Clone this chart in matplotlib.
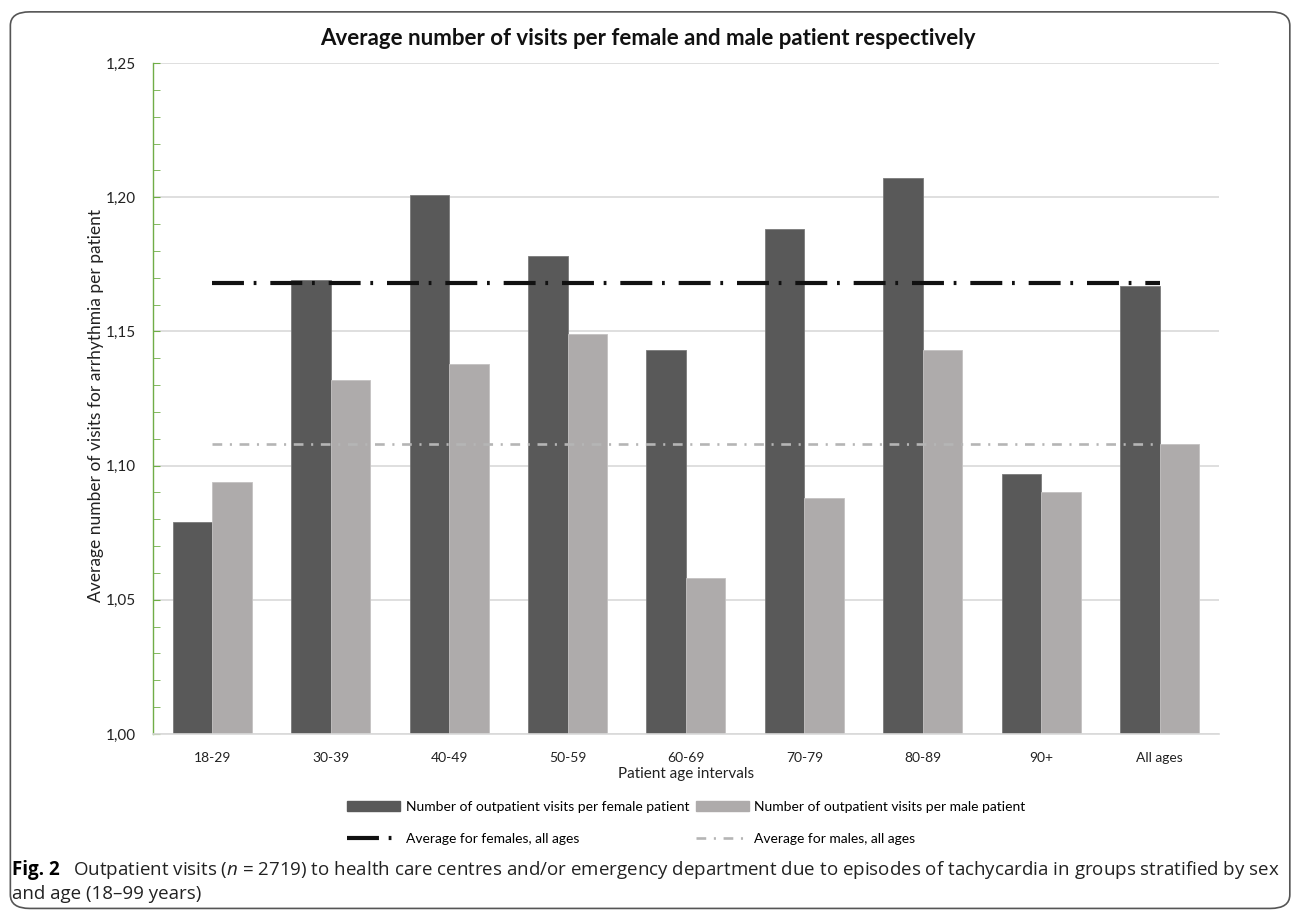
import numpy as np
import matplotlib.pyplot as plt
from matplotlib.patches import FancyBboxPatch, Patch

plt.rcParams['font.family'] = ['Lato', 'DejaVu Sans']
plt.rcParams['mathtext.fontset'] = 'custom'
plt.rcParams['mathtext.it'] = 'Open Sans:italic'
plt.rcParams['mathtext.rm'] = 'Open Sans'
plt.rcParams['lines.scale_dashes'] = False

age_groups = ["18-29", "30-39", "40-49", "50-59", "60-69", "70-79", "80-89", "90+", "All ages"]
female_visits = [1.079, 1.169, 1.201, 1.178, 1.143, 1.188, 1.207, 1.097, 1.167]
male_visits = [1.094, 1.132, 1.138, 1.149, 1.058, 1.088, 1.143, 1.090, 1.108]
female_avg = 1.168
male_avg = 1.108

female_col = "#595959"
male_col = "#aeabab"

fig = plt.figure(figsize=(12.95, 9.13), dpi=100)
ax = fig.add_axes([0.1181, 0.1961, 0.8232, 0.7349])

x = np.arange(len(age_groups))
w = 1 / 3
ax.bar(x - w / 2, female_visits, w, color=female_col, edgecolor="#7a7a7a", linewidth=0.6, zorder=2)
ax.bar(x + w / 2, male_visits, w, color=male_col, edgecolor="#c4c2c2", linewidth=0.6, zorder=2)

lf, = ax.plot([x[0], x[-1]], [female_avg, female_avg], color="#111111", lw=3.0,
              linestyle=(0, (23, 7, 2, 10)), zorder=3)
lm, = ax.plot([x[0], x[-1]], [male_avg, male_avg], color="#b5b5b5", lw=1.9,
              linestyle=(0, (7, 5.5, 1.5, 5.5)), zorder=3)

ax.set_xlim(-0.5, len(age_groups) - 0.5)
ax.set_ylim(1.0, 1.25)
major = np.arange(1.0, 1.2501, 0.05)
ax.set_yticks(major)
ax.set_yticks(np.arange(1.0, 1.2501, 0.01), minor=True)
ax.set_yticklabels([f"{v:.2f}".replace(".", ",") for v in major])
ax.set_xticks(x)
ax.set_xticklabels(age_groups)

ax.yaxis.grid(True, color="#d9d9d9", lw=1.2, zorder=0)
ax.set_axisbelow(True)
for s in ["top", "right"]:
    ax.spines[s].set_visible(False)
ax.spines["bottom"].set_color("#d9d9d9")
ax.spines["bottom"].set_linewidth(1.2)
ax.spines["left"].set_color("#70ad47")
ax.spines["left"].set_linewidth(1.0)

ax.tick_params(axis="x", length=0, pad=13, labelsize=10, labelcolor="#222222")
ax.tick_params(axis="y", which="both", direction="in", length=5, color="#70ad47",
               labelsize=11, labelcolor="#222222", pad=12)

ax.set_ylabel("Average number of visits for arrhythmia per patient", fontsize=12.5, color="#222222")
ax.yaxis.set_label_coords(-0.046, 0.49)
ax.text(0.5, -0.06, "Patient age intervals", transform=ax.transAxes, ha="center", va="center",
        fontsize=11, color="#222222")
fig.text(0.5, 0.958, "Average number of visits per female and male patient respectively",
         ha="center", va="center", fontsize=16, fontweight="bold", color="#111111")

handles = [Patch(color=female_col), lf, Patch(color=male_col), lm]
labels = ["Number of outpatient visits per female patient", "Average for females, all ages",
          "Number of outpatient visits per male patient", "Average for males, all ages"]
fig.legend(handles, labels, ncol=2, loc="center", bbox_to_anchor=(0.53, 0.099), frameon=False,
           fontsize=10, handlelength=3.8, handletextpad=0.4, columnspacing=0.5, labelspacing=1.45)

fig.text(0.009, 0.047, "Fig. 2", fontsize=13.5, fontweight="bold", family="Open Sans", va="center")
fig.text(0.056, 0.047, r"Outpatient visits ($n$ = 2719) to health care centres and/or emergency department due to episodes of tachycardia in groups stratified by sex",
         fontsize=13.5, family="Open Sans", va="center", color="#222222")
fig.text(0.009, 0.021, "and age (18\u201399 years)", fontsize=13.5, family="Open Sans", va="center", color="#222222")

box = FancyBboxPatch((0.008, 0.005), 0.988, 0.982, boxstyle="round,pad=0,rounding_size=0.015",
                     transform=fig.transFigure, facecolor="none", edgecolor="#555555", lw=1.2, zorder=0)
fig.patches.append(box)

fig.savefig("out.png", dpi=100)
